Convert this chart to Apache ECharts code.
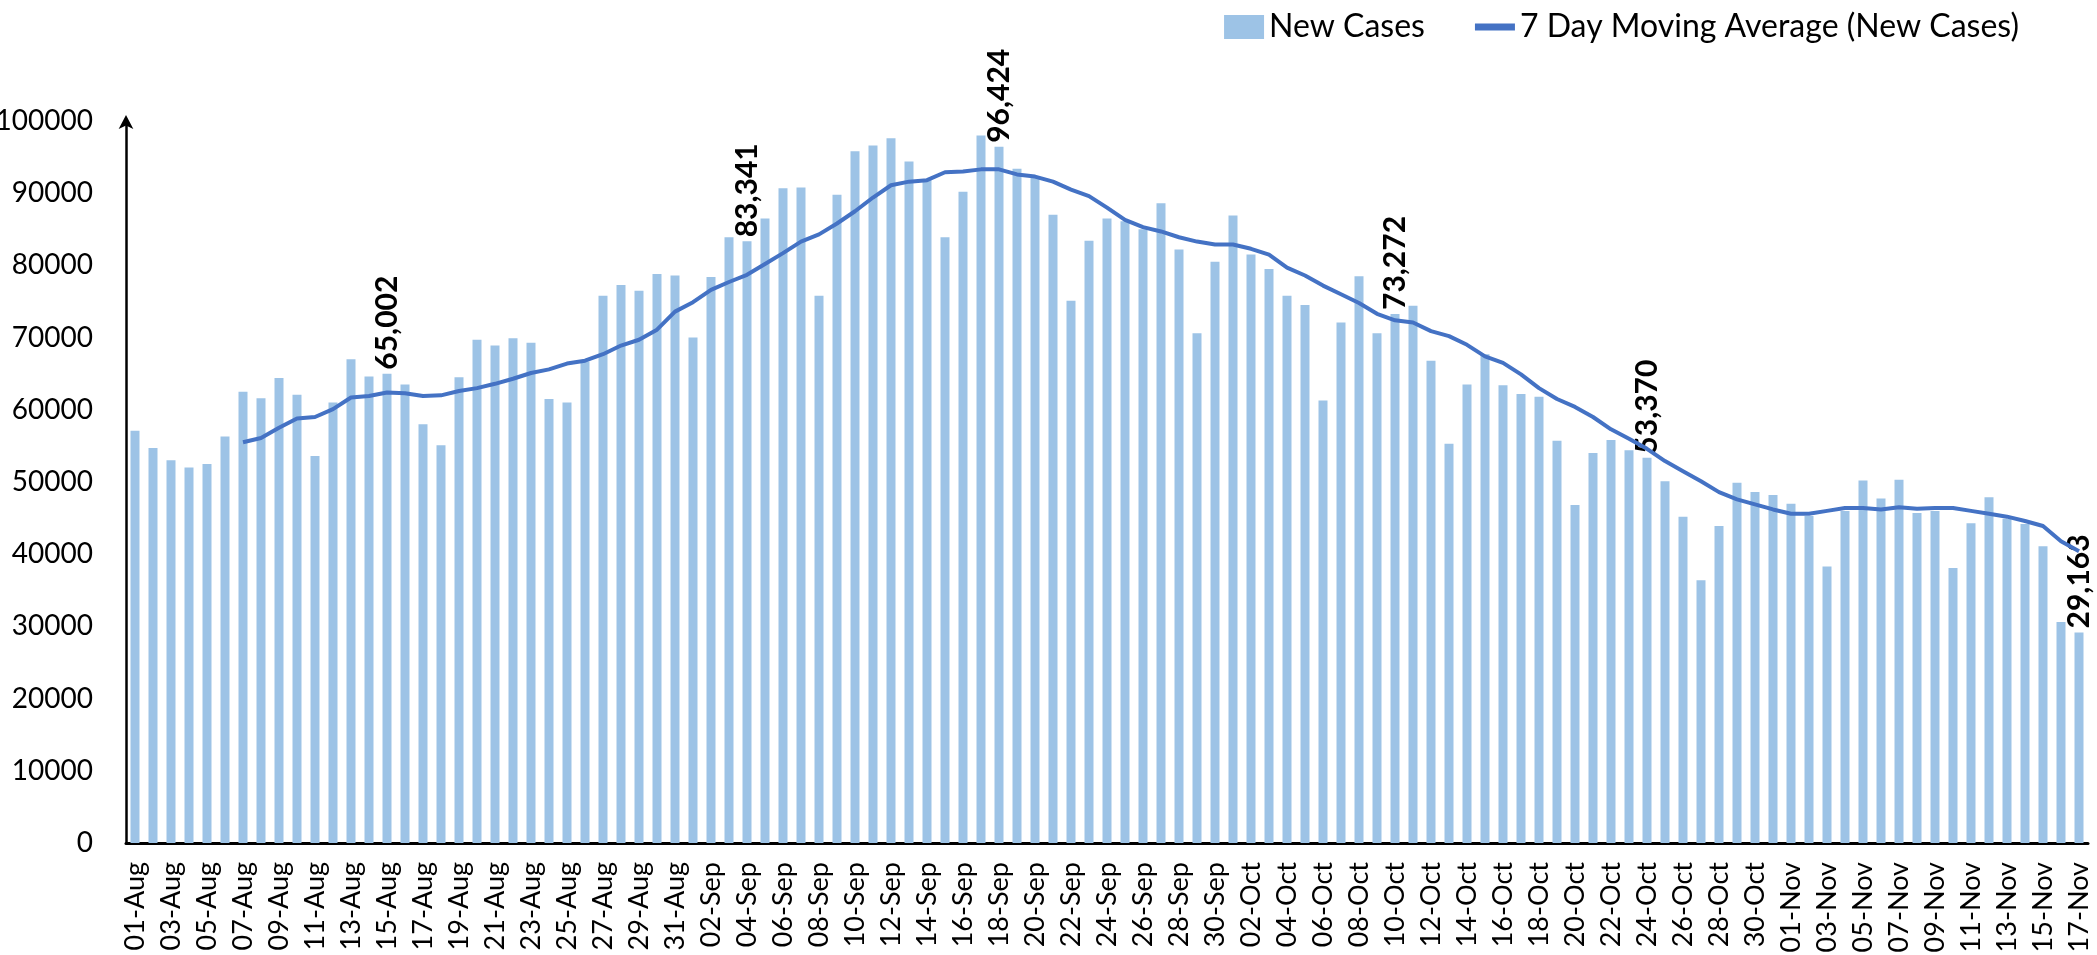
<!DOCTYPE html>
<html>
<head>
<meta charset="utf-8">
<title>New Cases and 7 Day Moving Average</title>
<script src="https://cdn.jsdelivr.net/npm/echarts@6/dist/echarts.min.js"></script>
<style>
  html, body { margin: 0; padding: 0; background: #fff; }
  #chart { width: 2097px; height: 955px; }
</style>
</head>
<body>
<div id="chart"></div>
<script>
const MONTHS = [['Aug', 31], ['Sep', 30], ['Oct', 31], ['Nov', 17]];

const NEW_CASES = [
  57100, 54700, 53000, 52000, 52500, 56300, 62500, 61600, 64400, 62100,
  53600, 61000, 67000, 64600, 65002, 63500, 58000, 55100, 64500, 69700,
  68900, 69900, 69300, 61500, 61000, 66700, 75800, 77300, 76500, 78800,
  78600, 70000, 78400, 83900, 83341, 86500, 90700, 90800, 75800, 89800,
  95800, 96600, 97600, 94400, 91800, 83900, 90200, 98000, 96424, 93400,
  92100, 87000, 75100, 83400, 86500, 86100, 85000, 88600, 82200, 70600,
  80500, 86900, 81500, 79500, 75800, 74500, 61300, 72100, 78500, 70600,
  73272, 74400, 66800, 55300, 63500, 67700, 63400, 62200, 61800, 55700,
  46800, 54000, 55800, 54400, 53370, 50100, 45200, 36400, 43900, 49900,
  48600, 48200, 47000, 45300, 38300, 46000, 50200, 47700, 50300, 45700,
  46000, 38100, 44300, 47900, 44900, 44200, 41100, 30600, 29163
];

// 7 day average only starts on the 7th day
const MOVING_AVG = [
  null, null, null, null, null, null, 55500, 56100, 57500, 58800,
  59000, 60100, 61700, 61900, 62400, 62300, 61900, 62000, 62600, 63000,
  63600, 64300, 65100, 65600, 66400, 66800, 67700, 68900, 69700, 71100,
  73600, 74900, 76600, 77700, 78700, 80200, 81700, 83300, 84300, 85800,
  87500, 89400, 91100, 91600, 91800, 92900, 93000, 93300, 93300, 92600,
  92300, 91600, 90500, 89600, 88000, 86300, 85300, 84700, 83900, 83300,
  82900, 82900, 82300, 81500, 79700, 78600, 77200, 76000, 74800, 73300,
  72400, 72100, 70900, 70200, 69000, 67400, 66500, 64900, 63000, 61500,
  60400, 59000, 57300, 56000, 54600, 52900, 51500, 50100, 48600, 47600,
  46900, 46200, 45600, 45600, 46000, 46400, 46400, 46200, 46500, 46300,
  46400, 46400, 46000, 45600, 45200, 44600, 43900, 41800, 40400
];

// every second week gets its value written above the bar
const LABELLED_DAYS = [14, 34, 48, 70, 84, 108];

const Y_MAX = 100000;
const Y_STEP = 10000;

const FONT = 'Lato, "Open Sans", sans-serif';
const LINE_ICON = 'path://M0,0 L40,0 L40,7 L0,7 Z';

function makeDays() {
  const days = [];
  MONTHS.forEach(([name, count]) => {
    for (let d = 1; d <= count; d++) days.push(`${String(d).padStart(2, '0')}-${name}`);
  });
  return days;
}

function makeBarData() {
  return NEW_CASES.map((value, index) => {
    if (!LABELLED_DAYS.includes(index)) return value;
    return {
      value,
      label: {
        show: true,
        position: 'top',
        distance: 4,
        rotate: 90,
        align: 'left',
        verticalAlign: 'middle',
        color: '#000',
        fontFamily: FONT,
        fontWeight: 'bold',
        fontSize: 30,
        formatter: (p) => p.value.toLocaleString('en-US')
      }
    };
  });
}

window.addEventListener('DOMContentLoaded', () => {
  const chart = echarts.init(document.getElementById('chart'), null, { renderer: 'canvas' });

  chart.setOption({
    backgroundColor: '#fff',
    animation: false,
    textStyle: { fontFamily: FONT, color: '#000' },
    legend: {
      top: 6,
      right: 73,
      itemWidth: 40,
      itemHeight: 24,
      itemGap: 50,
      textStyle: { fontFamily: FONT, fontSize: 32, color: '#000' },
      data: [
        { name: 'New Cases', icon: 'rect' },
        { name: '7 Day Moving Average (New Cases)', icon: LINE_ICON, itemStyle: { color: '#4472C4' } }
      ]
    },
    grid: {
      left: 126,
      right: 9,
      top: 121,
      bottom: 112,
      outerBoundsMode: 'none'
    },
    xAxis: {
      type: 'category',
      data: makeDays(),
      axisLine: { lineStyle: { color: '#000', width: 3 } },
      axisTick: { show: false },
      axisLabel: {
        interval: 1,
        rotate: 90,
        margin: 19,
        fontSize: 27,
        color: '#000',
        fontFamily: FONT
      }
    },
    yAxis: {
      type: 'value',
      min: 0,
      max: Y_MAX,
      interval: Y_STEP,
      splitLine: { show: false },
      axisTick: { show: false },
      axisLine: {
        show: true,
        symbol: ['none', 'arrow'],
        symbolSize: [11, 14],
        symbolOffset: [0, 6],
        lineStyle: { color: '#000', width: 2.5 }
      },
      axisLabel: {
        margin: 33,
        fontSize: 28,
        color: '#000',
        fontFamily: FONT,
        formatter: (v) => String(v)
      }
    },
    series: [
      {
        name: 'New Cases',
        type: 'bar',
        barWidth: '50%',
        itemStyle: { color: '#9DC3E6' },
        data: makeBarData()
      },
      {
        name: '7 Day Moving Average (New Cases)',
        type: 'line',
        showSymbol: false,
        symbol: 'none',
        connectNulls: false,
        lineStyle: { color: '#4472C4', width: 4 },
        itemStyle: { color: '#4472C4' },
        data: MOVING_AVG
      }
    ]
  });
});
</script>
</body>
</html>
